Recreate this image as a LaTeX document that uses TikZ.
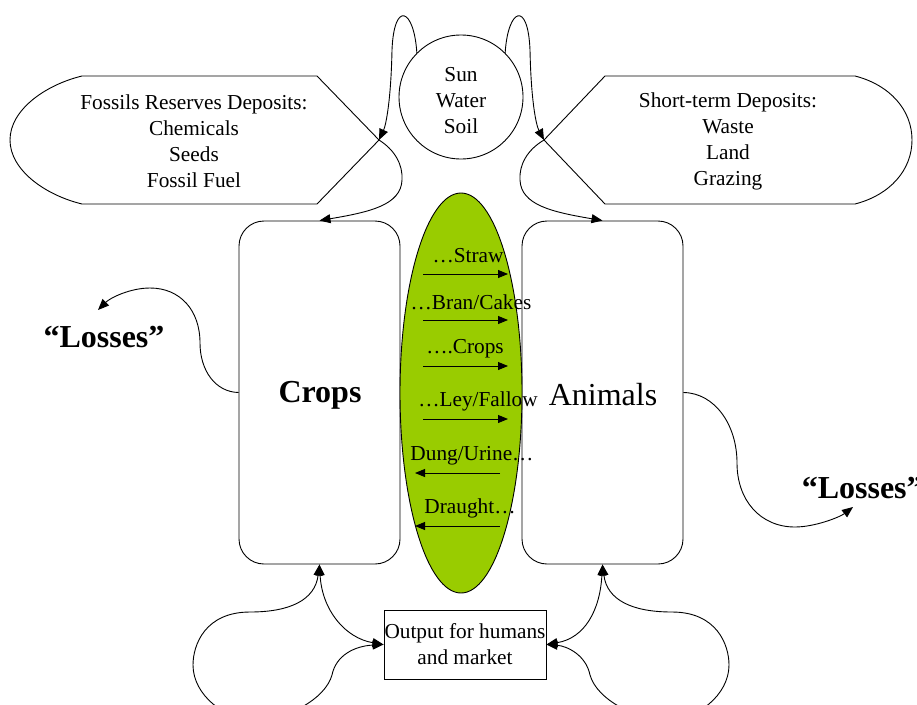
\documentclass[tikz,border=0pt]{standalone}
\usepackage{fontspec}
\setmainfont{Liberation Serif}
\usetikzlibrary{arrows.meta, shapes.geometric, positioning}

\definecolor{leaf}{HTML}{99CC00}

\tikzset{
  txt/.style={font=\fontsize{21.3}{26}\selectfont, align=center},
  bigtxt/.style={font=\fontsize{32}{38}\selectfont},
  pool/.style={draw, rounded corners=25pt, minimum width=161pt, minimum height=343pt, inner sep=0pt},
  link/.style={-{Triangle[length=11pt,width=9pt]}},
  twoway/.style={{Triangle[length=11pt,width=9pt]}-{Triangle[length=11pt,width=9pt]}},
  flow/.style={-{Triangle[length=10pt,width=8pt]}}
}

\begin{document}
\begin{tikzpicture}[x=1pt, y=-1pt, line width=0.9pt]

\useasboundingbox (0,0) rectangle (917,704);
\clip (0,0) rectangle (917,704);

% Sun
      \node[draw, circle, minimum size=124pt, inner sep=0pt] (sun) at (461,97) {};
      \node[txt] (suntext) at (461,101) {Sun\\Water\\Soil};

% Deposits
      \coordinate (fosTip) at (379,140);
      \coordinate (stTip) at (544,140);
      \draw (82,76) -- (317,76) -- (fosTip) -- (317,204) -- (82,204)
            .. controls (45,195) and (10,170) .. (10,140)
            .. controls (10,110) and (45,85) .. (82,76) -- cycle;
      \draw (605,76) -- (855,76)
            .. controls (890,85) and (912,110) .. (912,140)
            .. controls (912,170) and (890,195) .. (855,204) -- (605,204) -- (stTip) -- cycle;
      \node[txt] (fossil) at (194,141) {Fossils Reserves Deposits:\\Chemicals\\Seeds\\Fossil Fuel};
      \node[txt] (short) at (728,141) {Short-term Deposits:\\Waste\\Land\\Grazing};

% Crops and Animals
      \node[pool] (crops) at (319.5,392.5) {};
      \node[pool] (animals) at (602.5,392.5) {};

% Exchange
      \node[draw, ellipse, fill=leaf, minimum width=122pt, minimum height=400pt, inner sep=0pt] (swap) at (461,393) {};

      \node[bigtxt, font=\fontsize{32}{38}\selectfont\bfseries] (cropsname) at (320,395) {Crops};
      \node[bigtxt] (animalsname) at (603,395) {Animals};

      \node[txt] (straw) at (468,256) {…Straw};
      \node[txt] (bran) at (471,302) {…Bran/Cakes};
      \node[txt] (grain) at (465,349) {….Crops};
      \node[txt] (ley) at (478,401) {…Ley/Fallow};
      \node[txt] (dung) at (472,456) {Dung/Urine…};
      \node[txt] (draught) at (470,508) {Draught…};

      \coordinate (a1) at (423,274); \coordinate (b1) at (508,274);
      \coordinate (a2) at (423,320); \coordinate (b2) at (508,320);
      \coordinate (a3) at (423,366); \coordinate (b3) at (508,366);
      \coordinate (a4) at (423,419); \coordinate (b4) at (508,419);
      \coordinate (a5) at (500,473); \coordinate (b5) at (415,473);
      \coordinate (a6) at (500,526); \coordinate (b6) at (415,526);
      \draw[flow] (a1) -- (b1);
      \draw[flow] (a2) -- (b2);
      \draw[flow] (a3) -- (b3);
      \draw[flow] (a4) -- (b4);
      \draw[flow] (a5) -- (b5);
      \draw[flow] (a6) -- (b6);

% Output
      \node[draw, minimum width=162pt, minimum height=69pt, inner sep=0pt, txt] (output) at (465,644.5) {Output for humans\\and market};

% Losses
      \node[bigtxt, font=\fontsize{32}{38}\selectfont\bfseries] (lossesL) at (104,337) {“Losses”};
      \node[bigtxt, font=\fontsize{32}{38}\selectfont\bfseries, anchor=west] (lossesR) at (798,488) {“Losses”};
      \coordinate (lossL) at (98,310);
      \coordinate (lossR) at (853,507);

% Arrows
      \draw[link] (sun.135) .. controls (414,8) and (394,0) .. (392,50)
            .. controls (391,100) and (386,125) .. (fosTip);
      \draw[link] (sun.45) .. controls (508,8) and (528,0) .. (530,50)
            .. controls (531,100) and (536,125) .. (stTip);
      \draw[link] (fosTip) .. controls (395,150) and (403,165) .. (402,180)
            .. controls (401,205) and (370,212) .. (crops.north);
      \draw[link] (stTip) .. controls (527,150) and (519,165) .. (520,180)
            .. controls (521,205) and (552,212) .. (animals.north);

      \draw[link] (crops.west) .. controls (215,392) and (200,370) .. (200,343)
            .. controls (200,310) and (180,288) .. (150,288)
            .. controls (130,288) and (110,298) .. (lossL);
      \draw[link] (animals.east) .. controls (715,393) and (737,425) .. (737,463)
            .. controls (737,500) and (760,527) .. (795,527)
            .. controls (815,527) and (840,517) .. (lossR);

      \draw[twoway] (crops.south) .. controls (322,610) and (345,638) .. (output.west);
      \draw[twoway] (animals.south) .. controls (600,610) and (585,638) .. (output.east);
      \draw[twoway] (crops.south) .. controls (315,600) and (290,612) .. (250,612)
            .. controls (205,612) and (193,645) .. (193,665)
            .. controls (193,695) and (225,720) .. (255,720)
            .. controls (285,720) and (325,700) .. (332,675)
            .. controls (336,655) and (355,646) .. (output.west);
      \draw[twoway] (animals.south) .. controls (607,600) and (632,612) .. (672,612)
            .. controls (717,612) and (729,645) .. (729,665)
            .. controls (729,695) and (697,720) .. (667,720)
            .. controls (637,720) and (597,700) .. (590,675)
            .. controls (586,655) and (567,646) .. (output.east);

    \end{tikzpicture}
\end{document}
